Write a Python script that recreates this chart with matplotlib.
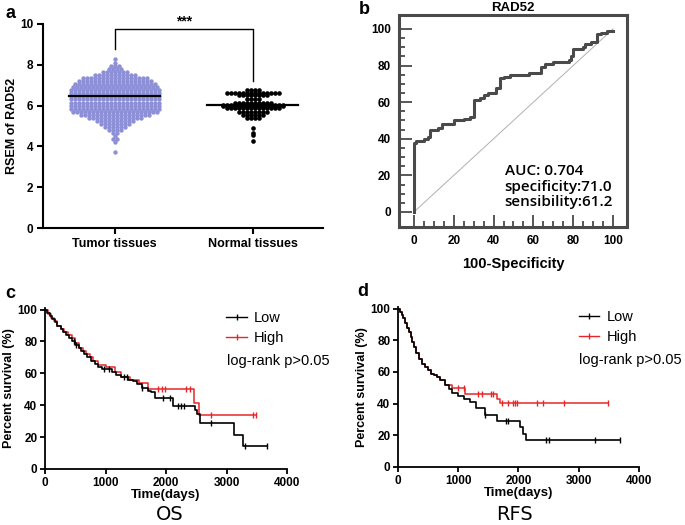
import numpy as np
import matplotlib
matplotlib.use("Agg")
import matplotlib.pyplot as plt
from matplotlib.lines import Line2D

plt.rcParams['font.family'] = ['Liberation Sans', 'DejaVu Sans']

# ---- panel a: RSEM of RAD52 (value levels and number of dots per level)
groups = ["Tumor tissues", "Normal tissues"]
tumor_levels = [3.75, 4.2, 4.35, 4.5, 4.65, 4.8, 4.95, 5.1, 5.25, 5.4, 5.55, 5.7, 5.85, 6.0,
                6.15, 6.3, 6.45, 6.6, 6.75, 6.9, 7.05, 7.2, 7.35, 7.5, 7.65, 7.8, 7.95, 8.1, 8.3]
tumor_counts = [1, 1, 2, 1, 2, 4, 6, 8, 10, 14, 18, 22, 23, 23,
                23, 23, 23, 23, 23, 22, 21, 19, 17, 11, 7, 4, 3, 1, 1]
normal_levels = [4.28, 4.55, 4.65, 4.9, 5.37, 5.54, 5.7, 5.88, 5.97, 6.05, 6.15, 6.3, 6.52, 6.63, 6.75]
normal_counts = [1, 1, 1, 1, 4, 6, 8, 14, 16, 16, 10, 4, 8, 14, 4]
medians = [6.45, 6.02]

# ---- panel b: ROC curve
roc_x = [0, 0, 1, 5, 7, 8, 12, 14, 19, 20, 25, 28, 30, 30, 33, 35, 37, 41, 43, 45, 48, 53,
         58, 63, 64, 66, 70, 75, 78, 79, 80, 83, 85, 86, 89, 92, 92, 94, 97, 100]
roc_y = [0, 37.5, 39, 40, 41, 45, 46, 48, 48, 50, 51, 52, 54, 61, 62, 64, 65, 68, 73, 74, 75, 75,
         76, 76, 79, 81, 82, 82, 83, 85, 89, 89, 90, 92, 93, 93, 97, 98, 99, 99]
roc_text = ["AUC: 0.704", "specificity:71.0", "sensibility:61.2"]

# ---- panel c: OS Kaplan-Meier
os_low_t = [0, 40, 80, 120, 160, 200, 260, 300, 350, 400, 450, 500, 560, 600, 650, 700, 760, 820,
            880, 950, 1100, 1180, 1250, 1380, 1450, 1520, 1600, 1700, 1750, 1820, 2120, 2480, 2520,
            2560, 3120, 3270]
os_low_s = [100, 98, 96, 94, 92, 90, 88, 86, 84, 82, 80, 78, 76, 74, 72, 70, 68, 66,
            64, 63, 61, 59, 58, 56, 55, 53, 51, 49, 48, 44.5, 39.5, 37, 34.5,
            28.8, 21.5, 14.3]
os_low_end = 3676
os_low_cens = [480, 520, 980, 1050, 1300, 1350, 1600, 1950, 2060, 2200, 2250, 2300, 2750, 3310, 3676]
os_high_t = [0, 50, 100, 150, 200, 260, 320, 380, 440, 500, 560, 620, 680, 740, 800, 870, 1000,
             1150, 1250, 1400, 1550, 1700, 2460, 2540]
os_high_s = [100, 97, 95, 93, 90, 88, 86, 84, 82, 79, 76, 74, 72, 70, 68, 65, 64,
             61, 58, 56, 54, 50, 41.5, 33.7]
os_high_end = 3480
os_high_cens = [1870, 1930, 1980, 2330, 2400, 2750, 3440, 3480]

# ---- panel d: RFS Kaplan-Meier
rfs_low_t = [0, 30, 60, 90, 120, 150, 180, 210, 240, 270, 300, 350, 400, 450, 500, 550, 600, 650,
             700, 780, 850, 900, 1000, 1100, 1200, 1300, 1450, 1650, 2030, 2080, 2130]
rfs_low_s = [100, 98, 96, 94, 91, 88, 85, 82, 79, 76, 72, 68, 65, 63, 61, 59, 58, 57,
             55, 52, 49, 47, 45, 43, 41, 37, 33, 29, 25, 21, 16.8]
rfs_low_end = 3680
rfs_low_cens = [1450, 1800, 1830, 2450, 2510, 3270, 3680]
rfs_high_t = [0, 30, 60, 90, 120, 150, 180, 210, 240, 270, 300, 350, 400, 450, 500, 550, 600, 650,
              700, 780, 900, 1120, 1650, 1700]
rfs_high_s = [100, 98, 96, 94, 91, 88, 85, 82, 79, 76, 72, 68, 65, 63, 61, 59, 58, 57,
              55, 52, 49.6, 46, 43, 40.5]
rfs_high_end = 3480
rfs_high_cens = [1000, 1100, 1320, 1400, 1550, 1580, 1720, 1830, 1910, 1950, 1980, 2310, 2400, 2750, 3480]

purple = "#8d90d6"
bold = dict(fontweight="bold")

fig = plt.figure(figsize=(6.85, 5.25), dpi=100)


def swarm(levels, counts, center, dx):
    xs, ys = [], []
    for lev, n in zip(levels, counts):
        off = (np.arange(n) - (n - 1) / 2.0) * dx
        xs.extend(center + off)
        ys.extend([lev] * n)
    return np.array(xs), np.array(ys)


# ================= a =================
ax = fig.add_axes([0.0628, 0.5657, 0.4088, 0.3886])
x1, y1 = swarm(tumor_levels, tumor_counts, 0, 0.029)
x2, y2 = swarm(normal_levels, normal_counts, 1, 0.029)
ax.scatter(x1, y1, s=10, color=purple, linewidths=0, zorder=2)
ax.scatter(x2, y2, s=11, color="black", linewidths=0, zorder=2)
for i, m in enumerate(medians):
    ax.plot([i - 0.33, i + 0.33], [m, m], color="black", lw=1.6, zorder=3)
ax.plot([0, 0, 1, 1], [8.77, 9.75, 9.75, 7.2], color="black", lw=1.0)
ax.text(0.5, 9.78, "***", ha="center", va="bottom", fontsize=10, **bold)
ax.set_xlim(-0.52, 1.51)
ax.set_ylim(0, 10)
ax.set_xticks([0, 1])
ax.set_xticklabels(groups, fontsize=9, **bold)
ax.set_yticks(range(0, 11, 2))
ax.set_yticklabels([str(v) for v in range(0, 11, 2)], fontsize=8.5, **bold)
ax.set_ylabel("RSEM of RAD52", fontsize=9, **bold)
ax.yaxis.set_label_coords(-0.088, 0.5)
for s in ["top", "right"]:
    ax.spines[s].set_visible(False)
for s in ["left", "bottom"]:
    ax.spines[s].set_linewidth(1.5)
ax.tick_params(width=1.5, length=4, pad=3)

# ================= b =================
ax = fig.add_axes([0.5825, 0.5676, 0.3328, 0.4038])
ax.plot([0, 100], [0, 100], color="#b0b0b0", lw=0.7)
ax.plot(roc_x, roc_y, color="#4a4a4a", lw=2.2, drawstyle="steps-post")
ax.set_xlim(-7.5, 107)
ax.set_ylim(-8.2, 107.6)
ax.set_xticks(range(0, 101, 20))
ax.set_yticks(range(0, 101, 20))
ax.set_xticks(range(0, 101, 5), minor=True)
ax.set_yticks(range(0, 101, 5), minor=True)
ax.set_xticklabels([str(v) for v in range(0, 101, 20)], fontsize=8.5, **bold)
ax.set_yticklabels([str(v) for v in range(0, 101, 20)], fontsize=8.5, **bold)
ax.tick_params(which="major", direction="in", length=9, width=1.3, color="#4a4a4a", pad=6)
ax.tick_params(which="minor", direction="in", length=4.5, width=1.3, color="#4a4a4a")
for s in ax.spines.values():
    s.set_linewidth(2.2)
    s.set_color("#4a4a4a")
ax.set_title("RAD52", fontsize=9.5, pad=3, **bold)
ax.set_xlabel("100-Specificity", fontsize=10.5, labelpad=7, **bold)
for txt, yy in zip(roc_text, [22.6, 13.5, 5.7]):
    ax.text(45.5, yy, txt, fontsize=11, va="center", ha="left", family=["Open Sans", "DejaVu Sans"],
            fontweight="semibold")


# ================= c / d =================
def km(ax, t, s, end, cens, color, lw):
    tt = list(t) + [end]
    ss = list(s) + [s[-1]]
    ax.plot(tt, ss, color=color, lw=lw, drawstyle="steps-post")
    idx = np.searchsorted(t, cens, side="right") - 1
    cy = np.array(s)[idx]
    ax.plot(cens, cy, ls="none", marker="|", ms=5, mew=1.0, color=color)


def km_axes(rect, low, high):
    ax = fig.add_axes(rect)
    km(ax, *high, color="#e8262a", lw=1.1)
    km(ax, *low, color="black", lw=1.2)
    ax.set_xlim(0, 4000)
    ax.set_ylim(0, 101)
    ax.set_xticks(range(0, 4001, 1000))
    ax.set_yticks(range(0, 101, 20))
    ax.set_xticklabels([str(v) for v in range(0, 4001, 1000)], fontsize=8.5, **bold)
    ax.set_yticklabels([str(v) for v in range(0, 101, 20)], fontsize=8.5, **bold)
    ax.set_xlabel("Time(days)", fontsize=9.5, labelpad=0, **bold)
    ax.set_ylabel("Percent survival (%)", fontsize=9, labelpad=2, **bold)
    for sp in ["top", "right"]:
        ax.spines[sp].set_visible(False)
    for sp in ["left", "bottom"]:
        ax.spines[sp].set_linewidth(1.3)
    ax.tick_params(width=1.3, length=3.5, pad=2)
    handles = [Line2D([], [], color="black", lw=1.0, marker="|", ms=4),
               Line2D([], [], color="#e8262a", lw=1.0, marker="|", ms=4)]
    ax.legend(handles, ["Low", "High"], loc="upper left", bbox_to_anchor=(0.695, 1.065),
              frameon=False, fontsize=10.5, handlelength=1.4, handletextpad=0.5, labelspacing=0.45)
    ax.text(0.75, 0.67, "log-rank p>0.05", transform=ax.transAxes, fontsize=10.5, va="center")
    return ax


km_axes([0.0657, 0.1067, 0.3533, 0.3067],
        (os_low_t, os_low_s, os_low_end, os_low_cens),
        (os_high_t, os_high_s, os_high_end, os_high_cens))
km_axes([0.581, 0.1105, 0.3518, 0.3048],
        (rfs_low_t, rfs_low_s, rfs_low_end, rfs_low_cens),
        (rfs_high_t, rfs_high_s, rfs_high_end, rfs_high_cens))

fig.text(170 / 685, 1 - 514 / 525, "OS", fontsize=14, ha="center", va="center",
         family=["Liberation Sans Narrow", "DejaVu Sans"])
fig.text(515 / 685, 1 - 514 / 525, "RFS", fontsize=14, ha="center", va="center",
         family=["Liberation Sans Narrow", "DejaVu Sans"])

for lab, (px, py) in zip("abcd", [(11, 13), (364, 9), (10, 293), (363, 292)]):
    fig.text(px / 685, 1 - py / 525, lab, fontsize=13, ha="center", va="center", **bold)

fig.savefig("out.png", dpi=100)
